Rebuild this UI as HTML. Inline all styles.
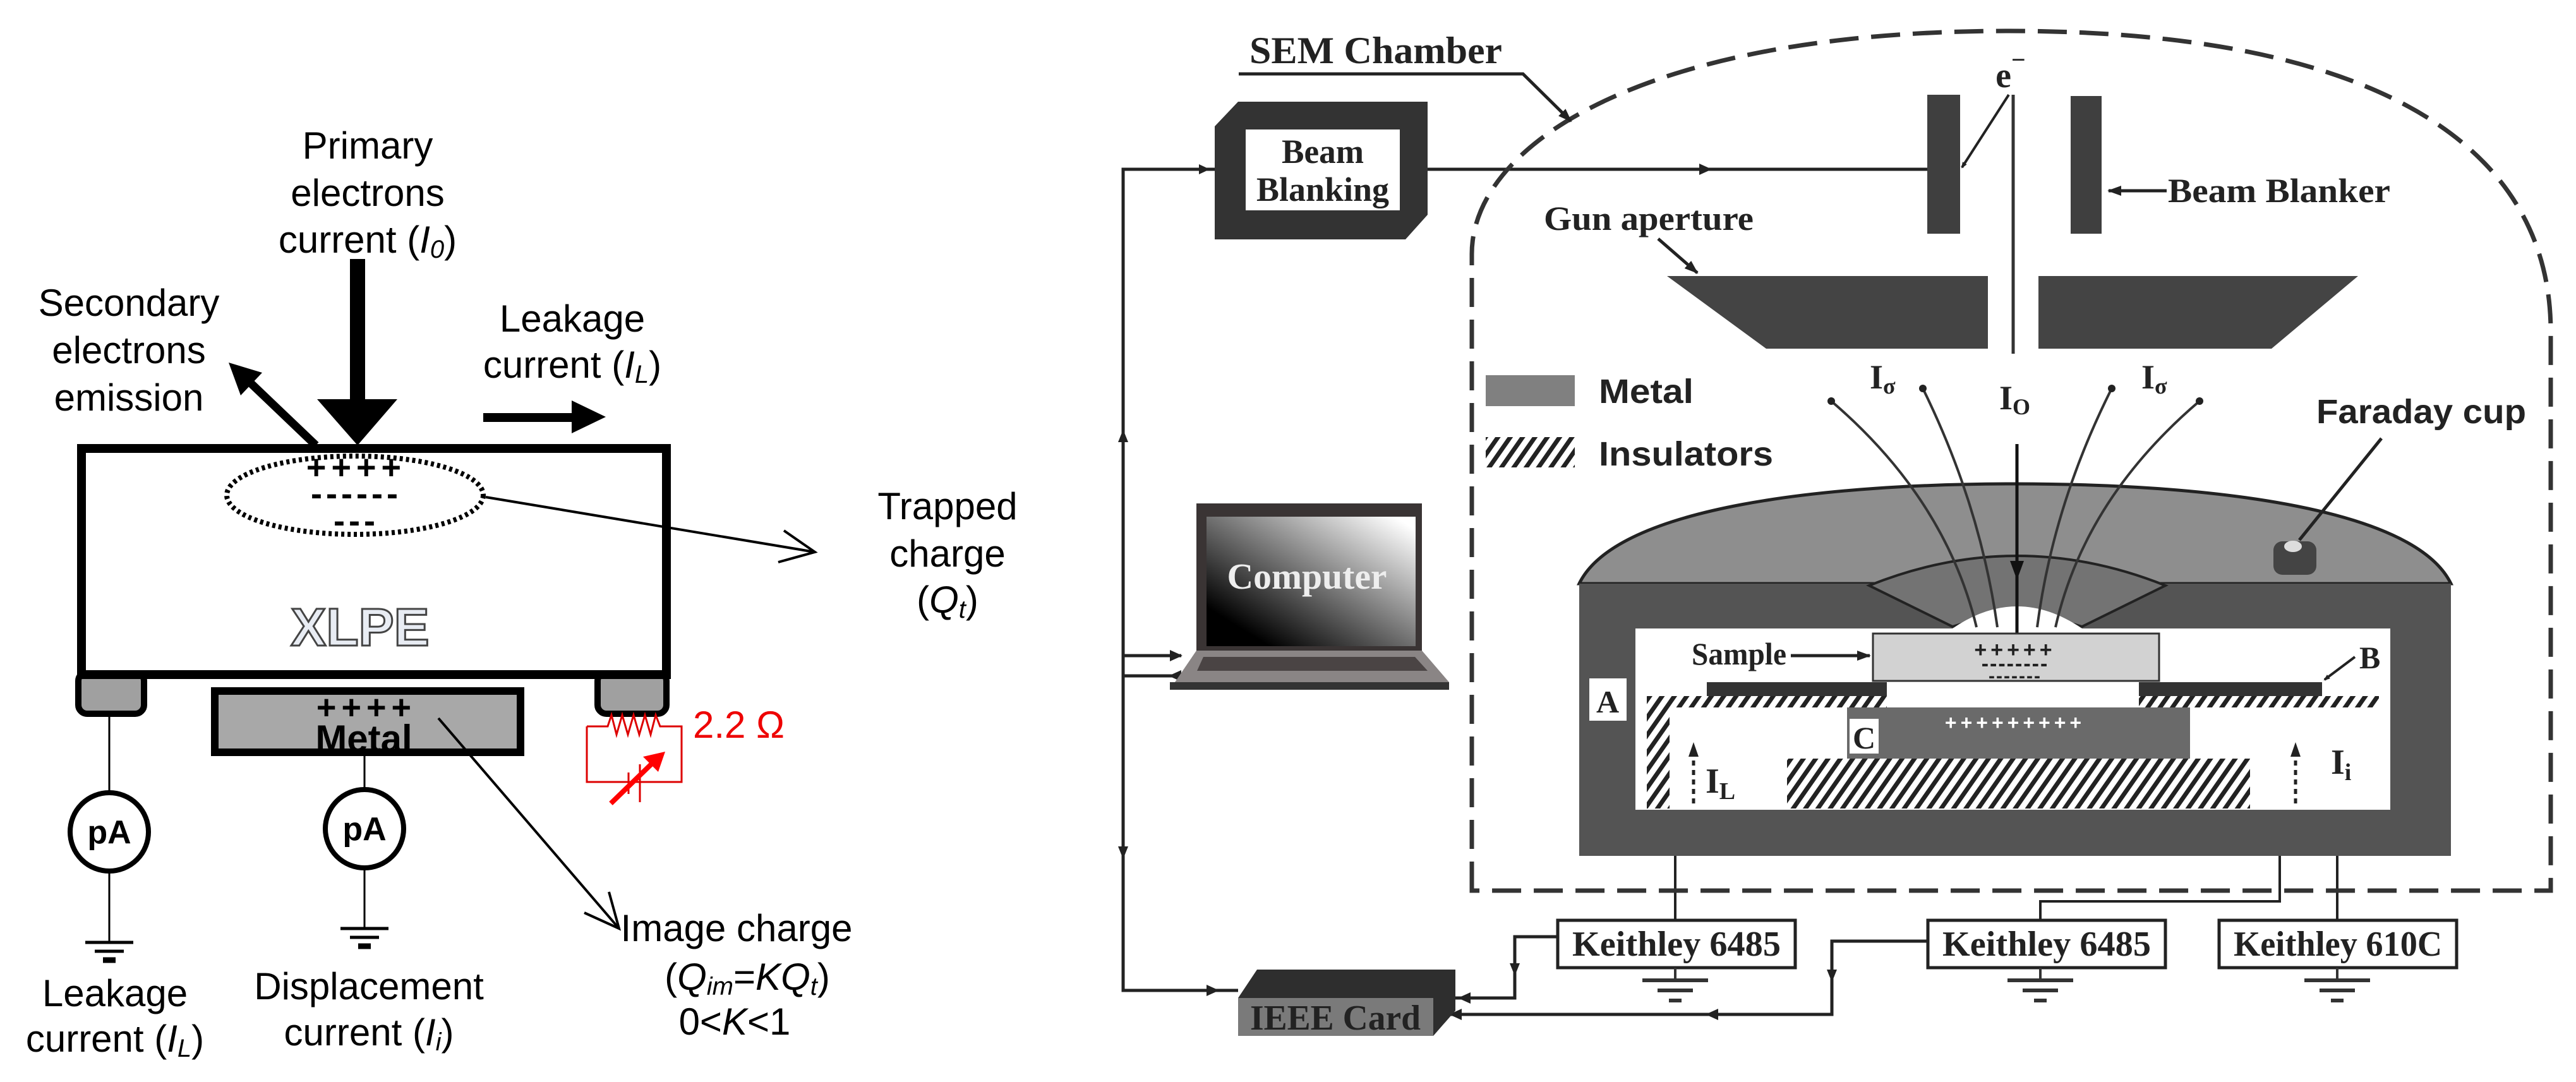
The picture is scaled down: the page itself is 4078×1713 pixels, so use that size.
<!DOCTYPE html>
<html><head><meta charset="utf-8"><style>html,body{margin:0;padding:0;background:#fff}svg{display:block}</style></head>
<body>
<svg width="4078" height="1713" viewBox="0 0 4078 1713" xmlns="http://www.w3.org/2000/svg">
<defs>
<pattern id="h" width="16" height="16" patternUnits="userSpaceOnUse" patternTransform="rotate(35)">
<rect width="16" height="16" fill="#fff"/><rect width="7" height="16" fill="#222"/></pattern>
<linearGradient id="scr" x1="0" y1="1" x2="1" y2="0"><stop offset="0.15" stop-color="#000"/><stop offset="0.95" stop-color="#fff"/></linearGradient>
<marker id="ah" markerWidth="10" markerHeight="10" refX="8" refY="5" orient="auto" markerUnits="userSpaceOnUse" viewBox="0 0 10 10"><path d="M0,1 L10,5 L0,9Z" fill="#222"/></marker>
<marker id="am" markerWidth="22" markerHeight="22" refX="20" refY="11" orient="auto" markerUnits="userSpaceOnUse"><path d="M0,3 L22,11 L0,19Z" fill="#222"/></marker>
</defs>

<!-- ================= LEFT ================= -->
<g font-family="Liberation Sans, Arial, sans-serif" font-size="60" fill="#000" text-anchor="middle">
<text x="582" y="251">Primary</text>
<text x="582" y="326">electrons</text>
<text x="582" y="400">current (<tspan font-style="italic">I<tspan font-size="40" dy="8">0</tspan></tspan><tspan dy="-8">)</tspan></text>
<text x="204" y="500">Secondary</text>
<text x="204" y="575">electrons</text>
<text x="204" y="650">emission</text>
<text x="906" y="525">Leakage</text>
<text x="906" y="598">current (<tspan font-style="italic">I<tspan font-size="40" dy="8">L</tspan></tspan><tspan dy="-8">)</tspan></text>
<text x="1500" y="822">Trapped</text>
<text x="1500" y="897">charge</text>
<text x="1500" y="970">(<tspan font-style="italic">Q<tspan font-size="40" dy="8">t</tspan></tspan><tspan dy="-8">)</tspan></text>
<text x="182" y="1593">Leakage</text>
<text x="182" y="1665">current (<tspan font-style="italic">I<tspan font-size="40" dy="8">L</tspan></tspan><tspan dy="-8">)</tspan></text>
<text x="584" y="1582">Displacement</text>
<text x="584" y="1655">current (<tspan font-style="italic">I<tspan font-size="40" dy="8">i</tspan></tspan><tspan dy="-8">)</tspan></text>
<text x="1166" y="1490">Image charge</text>
<text x="1183" y="1567">(<tspan font-style="italic">Q<tspan font-size="40" dy="8">im</tspan></tspan><tspan dy="-8">=</tspan><tspan font-style="italic">KQ<tspan font-size="40" dy="8">t</tspan></tspan><tspan dy="-8">)</tspan></text>
<text x="1163" y="1638">0&lt;<tspan font-style="italic">K</tspan>&lt;1</text>
</g>

<rect x="554" y="410" width="24" height="230" fill="#000"/>
<polygon points="502,632 629,632 566,705" fill="#000"/>
<line x1="500" y1="705" x2="390" y2="600" stroke="#000" stroke-width="13"/>
<polygon points="362,574 381,626 415,590" fill="#000"/>
<rect x="765" y="654" width="145" height="14" fill="#000"/>
<polygon points="905,634 905,686 959,660" fill="#000"/>

<rect x="124" y="1064" width="104" height="66" rx="14" fill="#a0a0a0" stroke="#000" stroke-width="10"/>
<rect x="946" y="1064" width="109" height="66" rx="14" fill="#a0a0a0" stroke="#000" stroke-width="10"/>
<rect x="129" y="710" width="926" height="358" fill="#fff" stroke="#000" stroke-width="14"/>
<ellipse cx="562" cy="784" rx="203" ry="62" fill="none" stroke="#000" stroke-width="8" stroke-dasharray="5 5"/>
<g font-family="Liberation Sans, Arial, sans-serif" font-weight="bold" font-size="54" text-anchor="middle" fill="#000">
<text x="564" y="758" letter-spacing="8">++++</text>
<text x="564" y="800" letter-spacing="6">------</text>
<text x="564" y="843" letter-spacing="6">---</text>
</g>
<text x="570" y="1022" font-family="Liberation Sans, Arial, sans-serif" font-weight="bold" font-size="84" text-anchor="middle" fill="#e8ecf3" stroke="#444" stroke-width="3">XLPE</text>

<line x1="769" y1="787" x2="1290" y2="874" stroke="#000" stroke-width="4"/>
<polyline points="1241,840 1290,874 1232,890" fill="none" stroke="#000" stroke-width="4"/>

<rect x="340" y="1094" width="484" height="97" fill="#a8a8a8" stroke="#000" stroke-width="12"/>
<text x="580" y="1138" font-family="Liberation Sans, Arial, sans-serif" font-weight="bold" font-size="54" text-anchor="middle" letter-spacing="8">++++</text>
<text x="576" y="1190" font-family="Liberation Sans, Arial, sans-serif" font-weight="bold" font-size="60" text-anchor="middle">Metal</text>
<line x1="694" y1="1137" x2="980" y2="1470" stroke="#000" stroke-width="4"/>
<polyline points="964,1412 980,1470 925,1445" fill="none" stroke="#000" stroke-width="4"/>

<g stroke="#000" fill="none">
<line x1="173" y1="1134" x2="173" y2="1255" stroke-width="3"/>
<line x1="173" y1="1379" x2="173" y2="1492" stroke-width="3"/>
<line x1="135" y1="1492" x2="211" y2="1492" stroke-width="5"/>
<line x1="150" y1="1506" x2="196" y2="1506" stroke-width="5"/>
<line x1="163" y1="1520" x2="183" y2="1520" stroke-width="9"/>
<circle cx="173" cy="1317" r="62" fill="#fff" stroke-width="8"/>
<line x1="577" y1="1197" x2="577" y2="1250" stroke-width="3"/>
<line x1="577" y1="1374" x2="577" y2="1470" stroke-width="3"/>
<line x1="539" y1="1470" x2="615" y2="1470" stroke-width="5"/>
<line x1="554" y1="1484" x2="600" y2="1484" stroke-width="5"/>
<line x1="567" y1="1498" x2="587" y2="1498" stroke-width="9"/>
<circle cx="577" cy="1312" r="62" fill="#fff" stroke-width="8"/>
</g>
<g font-family="Liberation Sans, Arial, sans-serif" font-weight="bold" font-size="52" text-anchor="middle">
<text x="173" y="1335">pA</text><text x="577" y="1330">pA</text></g>

<g stroke="#d00" fill="none" stroke-width="3">
<polyline points="929,1150 962,1150 968,1132 976,1163 985,1132 994,1163 1003,1132 1012,1163 1021,1132 1030,1163 1038,1132 1045,1150 1079,1150 1079,1238 929,1238 929,1150"/>
<line x1="995" y1="1223" x2="995" y2="1257"/>
<line x1="1013" y1="1210" x2="1013" y2="1270"/>
<line x1="967" y1="1272" x2="1035" y2="1206" stroke="#f00" stroke-width="8"/>
</g>
<polygon points="1053,1190 1018,1198 1042,1222" fill="#f00"/>
<text x="1097" y="1168" font-family="Liberation Sans, Arial, sans-serif" font-size="60" fill="#e00">2.2 Ω</text>

<!-- ================= RIGHT ================= -->
<g stroke="#222" stroke-width="5" fill="none">
<polyline points="1923,268 1778,268 1778,1568 1960,1568"/>
<line x1="2260" y1="268" x2="3051" y2="268"/>
<line x1="1778" y1="1038" x2="1870" y2="1038"/>
<line x1="1778" y1="1070" x2="1860" y2="1070"/>
<polyline points="2466,1483 2398,1483 2398,1580 2304,1580"/>
<polyline points="3052,1490 2900,1490 2900,1606 2290,1606"/>
<polyline points="2652,1457 2652,1090 2702,1090" stroke-width="4"/>
<polyline points="3230,1457 3230,1427 3609,1427 3609,1161 3467,1161" stroke-width="4"/>
<line x1="3700" y1="1355" x2="3700" y2="1457" stroke-width="4"/>
</g>
<g fill="#222">
<polygon points="1915,268 1898,260 1898,276"/>
<polygon points="2710,268 2690,259 2690,277"/>
<polygon points="1778,680 1770,700 1786,700"/>
<polygon points="1778,1360 1770,1340 1786,1340"/>
<polygon points="1872,1038 1852,1029 1852,1047"/>
<polygon points="1850,1070 1870,1061 1870,1079"/>
<polygon points="1930,1568 1910,1559 1910,1577"/>
<polygon points="2308,1580 2328,1571 2328,1589"/>
<polygon points="2398,1545 2390,1525 2406,1525"/>
<polygon points="2294,1606 2314,1597 2314,1615"/>
<polygon points="2700,1606 2720,1597 2720,1615"/>
<polygon points="2900,1555 2892,1535 2908,1535"/>
</g>

<path d="M2330,1410 V402 C2330,230 2600,49 3180,49 C3760,49 4038,230 4038,525 V1410 Z" fill="none" stroke="#333" stroke-width="7" stroke-dasharray="46 20"/>
<text x="1978" y="100" font-family="Liberation Serif, serif" font-weight="bold" font-size="60" textLength="400" lengthAdjust="spacingAndGlyphs" fill="#222">SEM Chamber</text>
<polyline points="1961,117 2411,117 2487,192" fill="none" stroke="#222" stroke-width="5" marker-end="url(#am)"/>

<polygon points="1923,200 1960,161 2260,161 2260,340 2225,379 1923,379" fill="#333"/>
<rect x="1972" y="205" width="244" height="128" fill="#fff"/>
<g font-family="Liberation Serif, serif" font-weight="bold" font-size="54" text-anchor="middle" fill="#222">
<text x="2094" y="258" textLength="130" lengthAdjust="spacingAndGlyphs">Beam</text><text x="2094" y="318" textLength="210" lengthAdjust="spacingAndGlyphs">Blanking</text></g>

<rect x="3051" y="150" width="52" height="220" fill="#3f3f3f"/>
<rect x="3278" y="152" width="49" height="218" fill="#3f3f3f"/>
<line x1="3187" y1="150" x2="3187" y2="560" stroke="#333" stroke-width="5"/>
<text x="3183" y="138" font-family="Liberation Serif, serif" font-weight="bold" font-size="56" text-anchor="middle" fill="#222">e<tspan font-size="40" dy="-30">−</tspan></text>
<line x1="3180" y1="150" x2="3106" y2="265" stroke="#222" stroke-width="4" marker-end="url(#ah)"/>
<line x1="3430" y1="302" x2="3338" y2="302" stroke="#222" stroke-width="5" marker-end="url(#am)"/>
<text x="3432" y="320" font-family="Liberation Serif, serif" font-weight="bold" font-size="54" textLength="352" lengthAdjust="spacingAndGlyphs" fill="#222">Beam Blanker</text>
<text x="2444" y="364" font-family="Liberation Serif, serif" font-weight="bold" font-size="54" textLength="332" lengthAdjust="spacingAndGlyphs" fill="#222">Gun aperture</text>
<line x1="2625" y1="378" x2="2687" y2="432" stroke="#222" stroke-width="5" marker-end="url(#am)"/>
<polygon points="2639,437 3147,437 3147,552 2796,552" fill="#444"/>
<polygon points="3227,437 3733,437 3596,552 3227,552" fill="#444"/>

<rect x="2352" y="594" width="141" height="49" fill="#808080"/>
<rect x="2352" y="692" width="141" height="48" fill="url(#h)"/>
<g font-family="Liberation Sans, Arial, sans-serif" font-weight="bold" font-size="54" fill="#222">
<text x="2531" y="638" textLength="150" lengthAdjust="spacingAndGlyphs">Metal</text>
<text x="2531" y="737" textLength="276" lengthAdjust="spacingAndGlyphs">Insulators</text>
<text x="3667" y="670" textLength="332" lengthAdjust="spacingAndGlyphs">Faraday cup</text></g>

<path d="M2500,924 C2560,800 2900,766 3190,766 C3480,766 3820,800 3880,924 Z" fill="#8e8e8e" stroke="#222" stroke-width="5"/>
<rect x="2500" y="924" width="1380" height="431" fill="#545454"/>
<rect x="2589" y="995" width="1195" height="287" fill="#fff"/>
<path d="M2959,927 Q3193,833 3428,927 L3296,992 Q3193,960 3091,992 Z" fill="#737373" stroke="#222" stroke-width="4"/>
<path d="M3091,995 Q3193,925 3296,995 Z" fill="#fff"/>
<rect x="3599" y="857" width="68" height="53" rx="14" fill="#444"/>
<ellipse cx="3630" cy="865" rx="14" ry="9" fill="#ddd"/>
<line x1="3770" y1="694" x2="3640" y2="855" stroke="#222" stroke-width="5"/>

<g stroke="#333" stroke-width="4" fill="none">
<path d="M2899,635 Q3080,790 3129,993"/>
<path d="M3044,615 Q3135,800 3162,993"/>
<path d="M3343,615 Q3250,800 3225,993"/>
<path d="M3482,635 Q3300,790 3254,993"/>
<line x1="3193" y1="703" x2="3193" y2="1040" stroke="#111" stroke-width="5"/>
</g>
<polygon points="3182,888 3204,888 3193,918" fill="#111"/>
<g fill="#222"><circle cx="2899" cy="635" r="6"/><circle cx="3044" cy="615" r="6"/><circle cx="3343" cy="615" r="6"/><circle cx="3482" cy="635" r="6"/></g>
<g font-family="Liberation Serif, serif" font-weight="bold" font-size="54" fill="#222">
<text x="2960" y="615">I<tspan font-size="36" dy="8">σ</tspan></text>
<text x="3390" y="615">I<tspan font-size="36" dy="8">σ</tspan></text>
<text x="3165" y="648">I<tspan font-size="36" dy="8">O</tspan></text></g>

<rect x="2965" y="1003" width="453" height="75" fill="#d2d2d2" stroke="#333" stroke-width="3"/>
<g font-family="Liberation Sans, Arial, sans-serif" font-weight="bold" fill="#222" text-anchor="middle">
<text x="3190" y="1040" font-size="34" letter-spacing="6">+++++</text>
<text x="3190" y="1062" font-size="34" letter-spacing="2">--------</text>
<text x="3190" y="1080" font-size="30" letter-spacing="2">-------</text></g>
<rect x="2702" y="1080" width="285" height="22" fill="#333"/>
<rect x="3386" y="1080" width="290" height="22" fill="#333"/>
<rect x="2607" y="1102" width="380" height="18" fill="url(#h)"/>
<rect x="3386" y="1102" width="380" height="18" fill="url(#h)"/>
<rect x="2607" y="1102" width="36" height="178" fill="url(#h)"/>
<rect x="2924" y="1120" width="543" height="81" fill="#6a6a6a"/>
<text x="3190" y="1155" font-family="Liberation Sans, Arial, sans-serif" font-weight="bold" font-size="32" fill="#fff" text-anchor="middle" letter-spacing="6">+++++++++</text>
<rect x="2928" y="1138" width="46" height="55" fill="#fff"/>
<text x="2951" y="1185" font-family="Liberation Serif, serif" font-weight="bold" font-size="50" text-anchor="middle" fill="#222">C</text>
<rect x="2829" y="1201" width="733" height="79" fill="url(#h)"/>
<rect x="2516" y="1074" width="59" height="67" fill="#fff"/>
<text x="2545" y="1128" font-family="Liberation Serif, serif" font-weight="bold" font-size="50" text-anchor="middle" fill="#222">A</text>
<text x="3735" y="1058" font-family="Liberation Serif, serif" font-weight="bold" font-size="50" fill="#222">B</text>
<line x1="3728" y1="1040" x2="3680" y2="1076" stroke="#222" stroke-width="4" marker-end="url(#ah)"/>
<text x="2678" y="1052" font-family="Liberation Serif, serif" font-weight="bold" font-size="50" textLength="150" lengthAdjust="spacingAndGlyphs" fill="#222">Sample</text>
<line x1="2835" y1="1038" x2="2960" y2="1038" stroke="#222" stroke-width="5" marker-end="url(#am)"/>
<line x1="2681" y1="1272" x2="2681" y2="1195" stroke="#222" stroke-width="5" stroke-dasharray="8 7"/>
<polygon points="2673,1198 2689,1198 2681,1175" fill="#222"/>
<line x1="3634" y1="1272" x2="3634" y2="1195" stroke="#222" stroke-width="5" stroke-dasharray="8 7"/>
<polygon points="3626,1198 3642,1198 3634,1175" fill="#222"/>
<g font-family="Liberation Serif, serif" font-weight="bold" font-size="56" fill="#222">
<text x="2700" y="1255">I<tspan font-size="38" dy="10">L</tspan></text>
<text x="3690" y="1225">I<tspan font-size="38" dy="10">i</tspan></text></g>

<rect x="1894" y="797" width="357" height="256" fill="#3a3434"/>
<rect x="1910" y="818" width="331" height="205" fill="url(#scr)"/>
<text x="2069" y="932" font-family="Liberation Serif, serif" font-weight="bold" font-size="58" text-anchor="middle" fill="#eee" textLength="253" lengthAdjust="spacingAndGlyphs">Computer</text>
<polygon points="1894,1030 2251,1030 2294,1080 1860,1080" fill="#8a8585"/>
<polygon points="1905,1040 2240,1040 2260,1062 1895,1062" fill="#4a4444"/>
<rect x="1852" y="1080" width="442" height="12" fill="#333"/>

<g stroke="#222" fill="#fff" stroke-width="5">
<rect x="2466" y="1457" width="376" height="75"/>
<rect x="3052" y="1457" width="376" height="75"/>
<rect x="3513" y="1457" width="376" height="75"/>
</g>
<g font-family="Liberation Serif, serif" font-weight="bold" font-size="56" fill="#222" text-anchor="middle">
<text x="2654" y="1513" textLength="330" lengthAdjust="spacingAndGlyphs">Keithley 6485</text>
<text x="3240" y="1513" textLength="330" lengthAdjust="spacingAndGlyphs">Keithley 6485</text>
<text x="3701" y="1513" textLength="330" lengthAdjust="spacingAndGlyphs">Keithley 610C</text></g>
<g stroke="#333">
<line x1="2652" y1="1532" x2="2652" y2="1550" stroke-width="4"/>
<line x1="2600" y1="1552" x2="2704" y2="1552" stroke-width="6"/>
<line x1="2624" y1="1568" x2="2680" y2="1568" stroke-width="6"/>
<line x1="2642" y1="1584" x2="2662" y2="1584" stroke-width="6"/>
<line x1="3230" y1="1532" x2="3230" y2="1550" stroke-width="4"/>
<line x1="3178" y1="1552" x2="3282" y2="1552" stroke-width="6"/>
<line x1="3202" y1="1568" x2="3258" y2="1568" stroke-width="6"/>
<line x1="3220" y1="1584" x2="3240" y2="1584" stroke-width="6"/>
<line x1="3700" y1="1532" x2="3700" y2="1550" stroke-width="4"/>
<line x1="3648" y1="1552" x2="3752" y2="1552" stroke-width="6"/>
<line x1="3672" y1="1568" x2="3728" y2="1568" stroke-width="6"/>
<line x1="3690" y1="1584" x2="3710" y2="1584" stroke-width="6"/>
</g>

<polygon points="1990,1535 2304,1535 2304,1600 2269,1640 2269,1580 1960,1580" fill="#2e2e2e"/>
<rect x="1960" y="1580" width="309" height="60" fill="#7a7a7a"/>
<text x="2114" y="1630" font-family="Liberation Serif, serif" font-weight="bold" font-size="56" text-anchor="middle" fill="#222" textLength="270" lengthAdjust="spacingAndGlyphs">IEEE Card</text>
</svg>
</body></html>
